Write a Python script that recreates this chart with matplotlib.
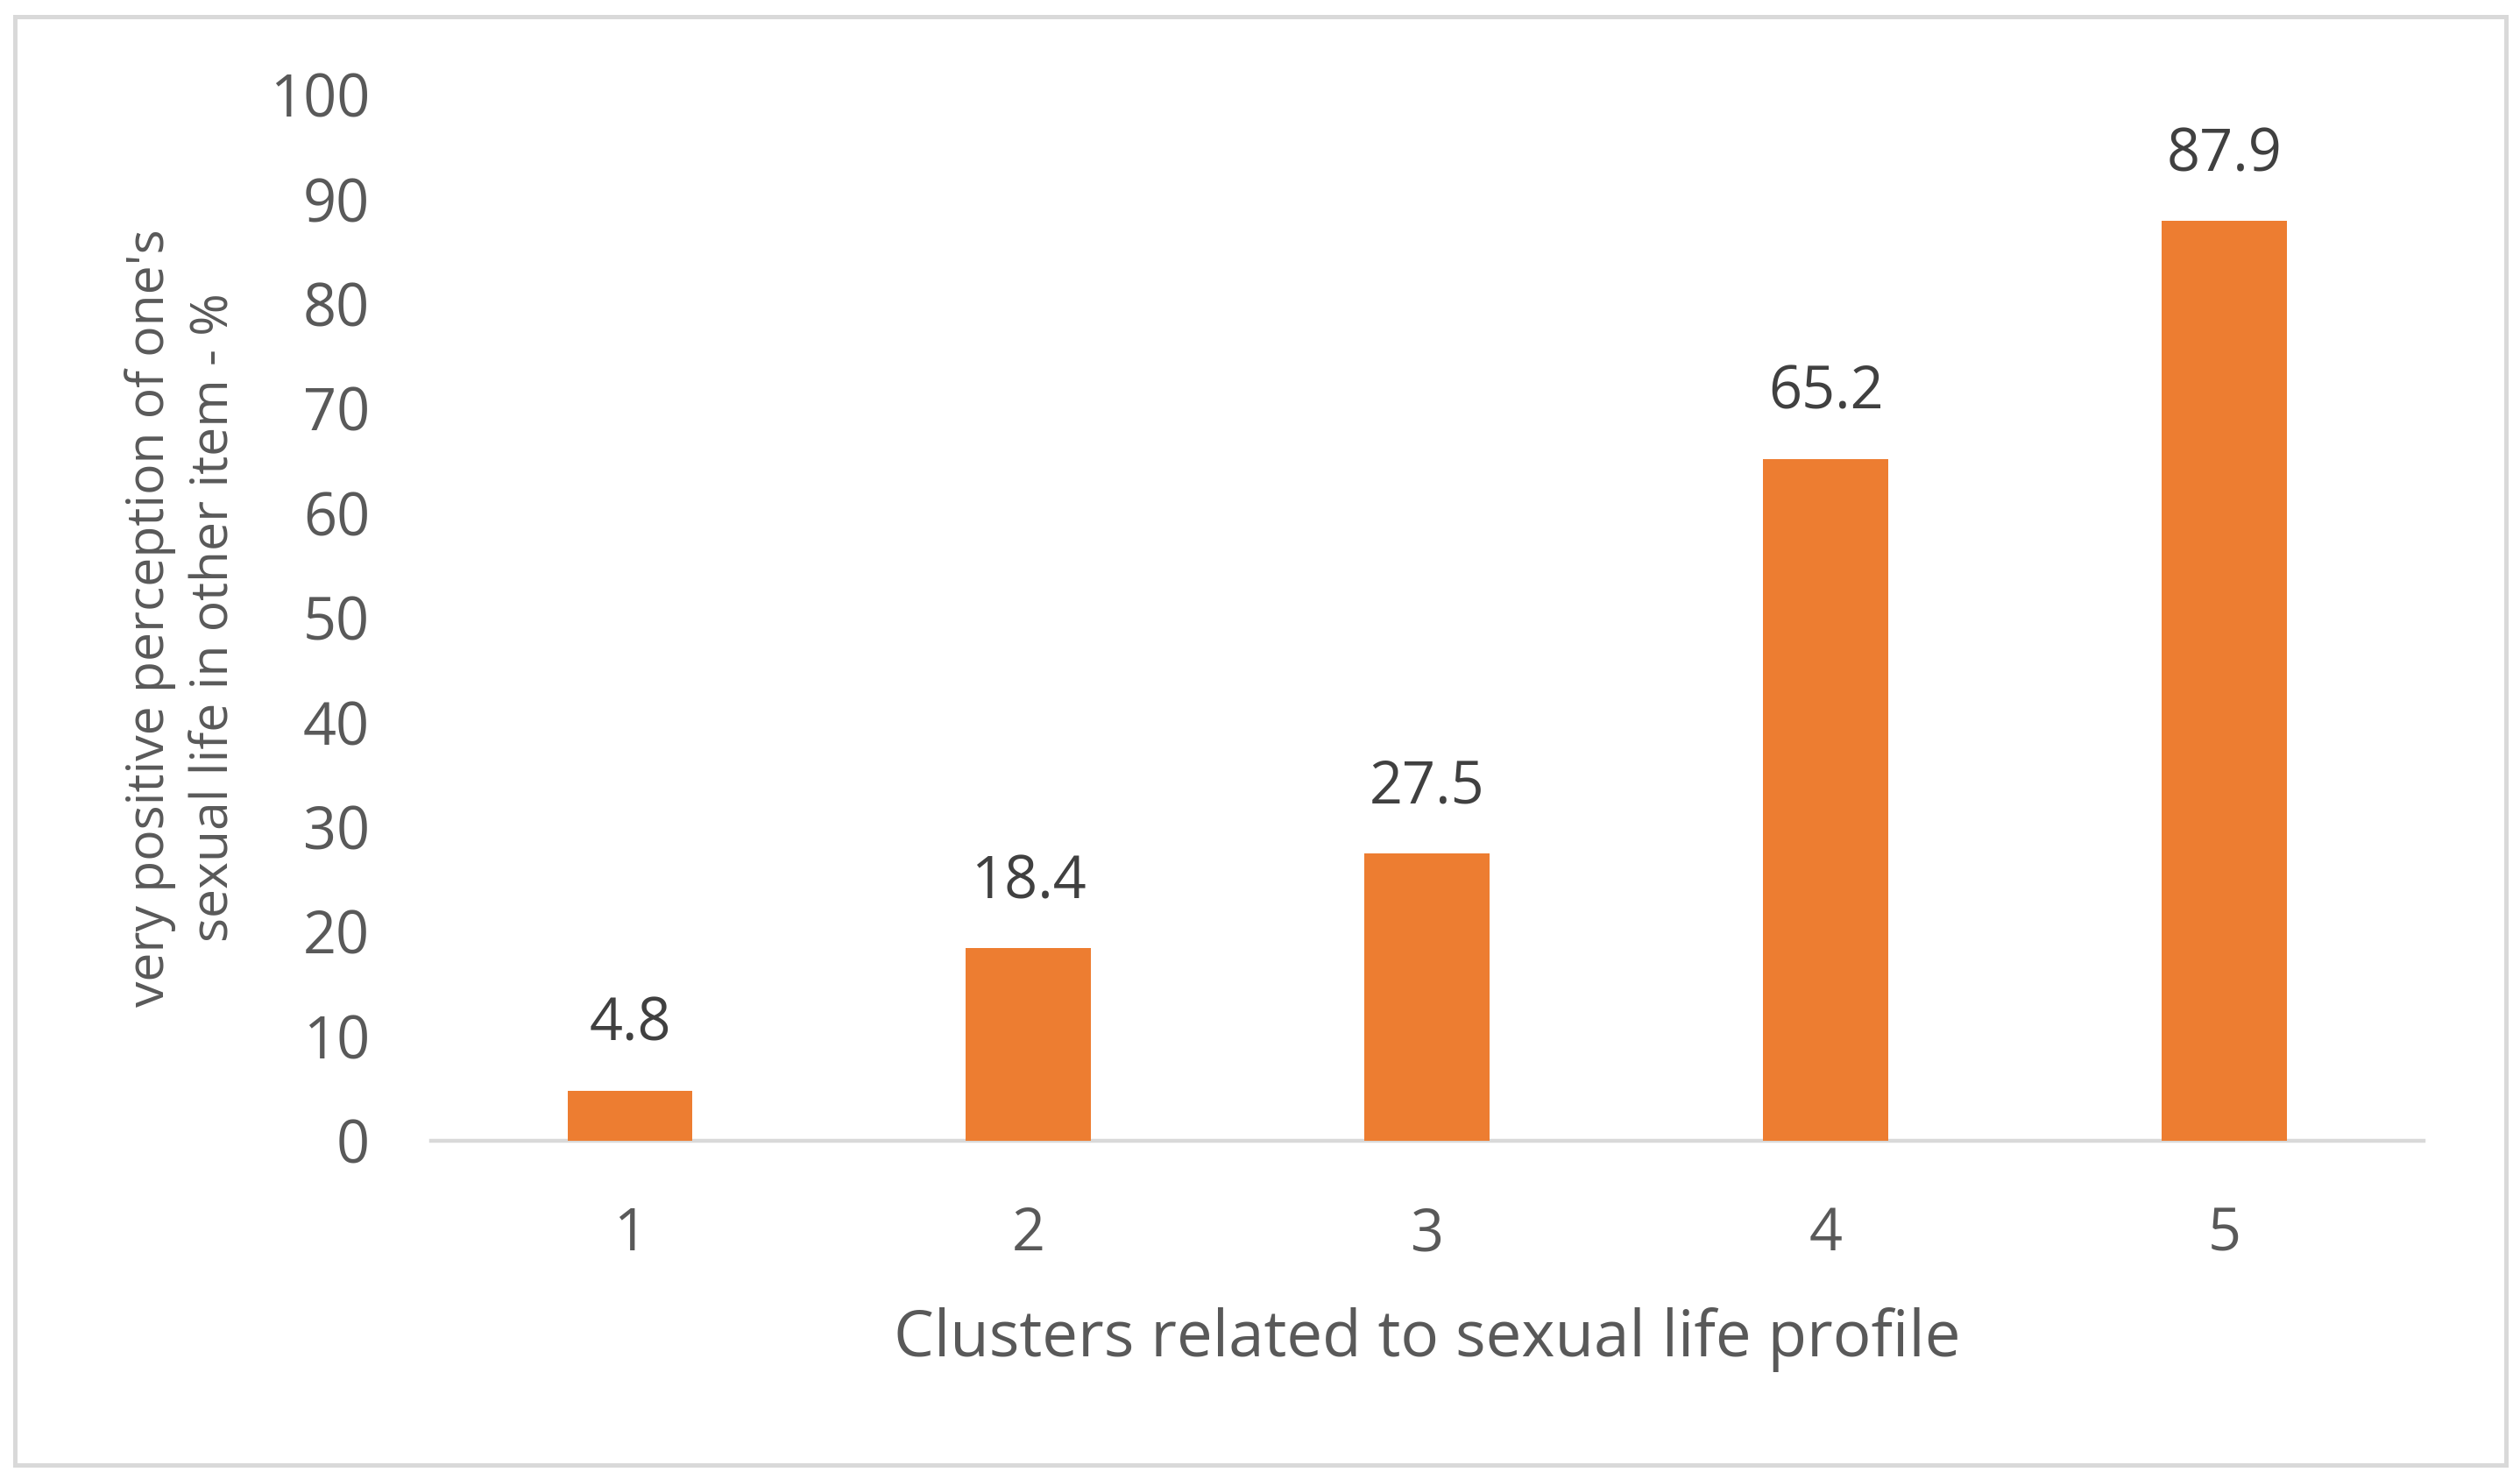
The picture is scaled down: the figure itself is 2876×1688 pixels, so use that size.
import matplotlib
matplotlib.use("Agg")
import matplotlib.pyplot as plt
from matplotlib.patches import Rectangle

categories = ["1", "2", "3", "4", "5"]
values = [4.8, 18.4, 27.5, 65.2, 87.9]
yticks = [0, 10, 20, 30, 40, 50, 60, 70, 80, 90, 100]
xlabel = "Clusters related to sexual life profile"
ylabel = "very positive perception of one's\nsexual life in other item - %"

plt.rcParams['font.family'] = ['Open Sans', 'DejaVu Sans']

W, H, DPI = 2876, 1688, 200
fig = plt.figure(figsize=(W / DPI, H / DPI), dpi=DPI)
fig.patch.set_facecolor('white')

# outer border
fig.patches.append(Rectangle((16.5 / W, 1 - 1672 / H), (2859.5 - 16.5) / W, (1672 - 19) / H,
                             transform=fig.transFigure, fill=False,
                             edgecolor='#D9D9D9', linewidth=1.8, zorder=0))

ax = fig.add_axes([491.5 / W, (H - 1302) / H, 2274.5 / W, 1194 / H])
x = list(range(len(categories)))
bars = ax.bar(x, values, width=0.314, color='#ED7D31', zorder=2)
ax.set_xlim(-0.5, len(categories) - 0.5)
ax.set_ylim(0, 100)
ax.set_yticks(yticks)
ax.set_yticklabels([str(v) for v in yticks])
ax.set_xticks(x)
ax.set_xticklabels(categories)

for s in ['top', 'right', 'left']:
    ax.spines[s].set_visible(False)
ax.spines['bottom'].set_color('#D9D9D9')
ax.spines['bottom'].set_linewidth(1.6)
ax.spines['bottom'].set_zorder(1)

ax.tick_params(axis='both', length=0, labelsize=24, labelcolor='#595959')
ax.tick_params(axis='y', pad=25)
ax.tick_params(axis='x', pad=26.5)

for xi, v in zip(x, values):
    ax.annotate(f"{v:.1f}", (xi, v), xytext=(0, 20.5), textcoords='offset points',
                ha='center', va='baseline', fontsize=24, color='#404040')

ax.set_xlabel(xlabel, fontsize=26.2, color='#595959', va='center')
ax.xaxis.set_label_coords(0.5, -0.19)
ax.set_ylabel(ylabel, fontsize=21.2, color='#595959', va='center', ha='center',
              multialignment='center', linespacing=1.35)
ax.yaxis.set_label_coords(-0.1246, 0.5)

fig.savefig('out.png', dpi=DPI, facecolor='white')
